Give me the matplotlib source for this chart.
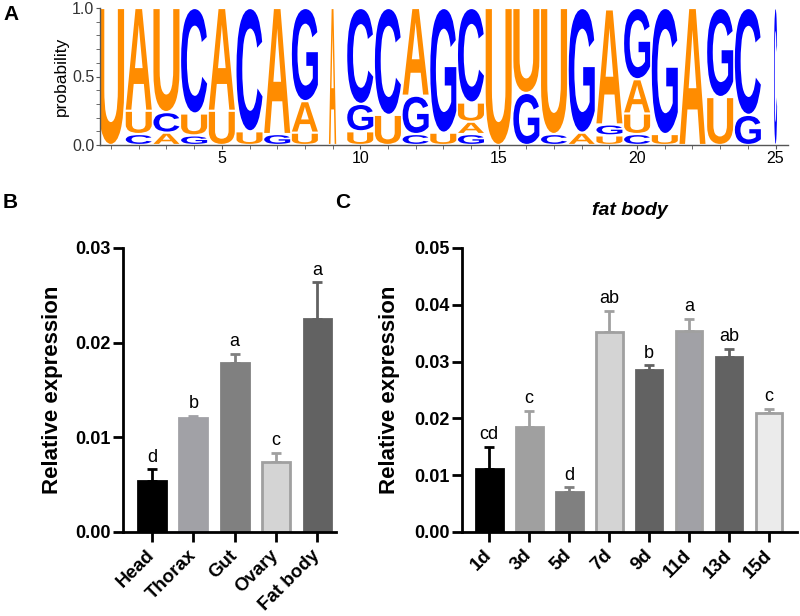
import matplotlib
matplotlib.use('Agg')
import matplotlib.pyplot as plt
from matplotlib.textpath import TextPath
from matplotlib.patches import PathPatch
from matplotlib.font_manager import FontProperties
from matplotlib.transforms import Affine2D
from matplotlib.ticker import MultipleLocator, FormatStrFormatter
import numpy as np

plt.rcParams['font.family'] = ['Liberation Sans', 'DejaVu Sans']

# --- A: sequence logo (probabilities per position) ---
positions = list(range(1, 26))
prob_A = [0, .75, .09, 0, .75, 0, .92, .23, 1, 0, 0, .64, 0, .09, 0, 0, 0, .09, .84, .25, 0, 1, 0, 0, 0]
prob_C = [0, .08, .15, .77, 0, .90, 0, 0, 0, .70, .78, .08, 0, .69, 0, 0, .08, 0, 0, .08, 0, 0, 0, .78, 1]
prob_G = [0, 0, 0, .07, 0, 0, .08, .68, 0, .20, 0, .28, .91, .08, 0, .38, 0, .91, .08, .52, .92, 0, .65, .22, 0]
prob_U = [1, .17, .76, .16, .25, .10, 0, .09, 0, .10, .22, 0, .09, .14, 1, .62, .92, 0, .07, .15, .08, 0, .35, 0, 0]
coverage = [1, 1, 1, 1, 1, 1, 1, 1, .28, 1, 1, 1, 1, 1, 1, 1, 1, 1, 1, 1, 1, 1, 1, 1, .12]

# --- B: tissues ---
tissues = ['Head', 'Thorax', 'Gut', 'Ovary', 'Fat body']
tissue_mean = [0.00542, 0.0120, 0.0179, 0.00735, 0.02246]
tissue_err = [0.00120, 0.00025, 0.0009, 0.00100, 0.0039]
tissue_sig = ['d', 'b', 'a', 'c', 'a']

# --- C: fat body time course ---
days = ['1d', '3d', '5d', '7d', '9d', '11d', '13d', '15d']
day_mean = [0.01115, 0.01843, 0.00699, 0.03527, 0.02847, 0.03544, 0.03087, 0.0209]
day_err = [0.0039, 0.0029, 0.0009, 0.0037, 0.0009, 0.0021, 0.0014, 0.0008]
day_sig = ['cd', 'c', 'd', 'ab', 'b', 'a', 'ab', 'c']

orange = '#FF8C00'
blue = '#0000FF'
letter_colors = {'A': orange, 'U': orange, 'C': blue, 'G': blue}
logo_font = FontProperties(family='Liberation Sans', weight='bold')


def draw_letter(ax, ch, x, y0, w, h, color):
    """rysuje jedna litere rozciagnieta do prostokata"""
    tp = TextPath((0, 0), ch, size=1, prop=logo_font)
    bb = tp.get_extents()
    pad = 0.008
    hh = max(h - 2 * pad, 0.002)
    tr = Affine2D().translate(-bb.x0, -bb.y0).scale(w / bb.width, hh / bb.height).translate(x - w / 2, y0 + pad)
    ax.add_patch(PathPatch(tr.transform_path(tp), facecolor=color, edgecolor='none'))


fig = plt.figure(figsize=(8, 6.16), dpi=100)

axA = fig.add_axes([100 / 800, 1 - 145 / 616, 688 / 800, 137 / 616])
for i, pos in enumerate(positions):
    col = {'A': prob_A[i], 'C': prob_C[i], 'G': prob_G[i], 'U': prob_U[i]}
    order = sorted(col.keys(), key=lambda k: col[k])
    y = 0
    for ch in order:
        if col[ch] <= 0:
            continue
        draw_letter(axA, ch, pos, y, 0.94 * coverage[i], col[ch], letter_colors[ch])
        y += col[ch]
axA.set_xlim(0.6, 25.45)
axA.set_ylim(0, 1)
for s in ['top', 'right']:
    axA.spines[s].set_visible(False)
for s in ['left', 'bottom']:
    axA.spines[s].set_color('#555555')
    axA.spines[s].set_linewidth(1)
axA.xaxis.set_major_locator(MultipleLocator(5))
axA.xaxis.set_minor_locator(MultipleLocator(1))
axA.yaxis.set_major_locator(MultipleLocator(0.5))
axA.yaxis.set_minor_locator(MultipleLocator(0.1))
axA.yaxis.set_major_formatter(FormatStrFormatter('%.1f'))
axA.tick_params(which='both', color='#555555', length=3, labelsize=11.5, pad=1)
axA.tick_params(axis='y', labelcolor='#333333')
axA.set_ylabel('probability', fontsize=12.5)
axA.yaxis.set_label_coords(-0.045, 0.5)


def style_bar_axes(ax):
    for s in ['top', 'right']:
        ax.spines[s].set_visible(False)
    for s in ['left', 'bottom']:
        ax.spines[s].set_linewidth(2)
    ax.tick_params(width=2, length=7, labelsize=13, pad=2)
    ax.tick_params(axis='x', labelsize=13.5, pad=8)
    for lab in ax.get_yticklabels() + ax.get_xticklabels():
        lab.set_fontweight('bold')


def draw_bars(ax, labels, mean, err, sig, face, edge, ymax_text_pad):
    x = np.arange(len(labels))
    for i in range(len(labels)):
        ax.bar(x[i], mean[i], width=0.67, color=face[i], edgecolor=edge[i], linewidth=2, zorder=2)
        ax.errorbar(x[i], mean[i], yerr=[[0], [err[i]]], fmt='none', ecolor=edge[i],
                    elinewidth=2, capsize=3.6, capthick=2, zorder=1)
        ax.text(x[i], mean[i] + err[i] + ymax_text_pad, sig[i], ha='center', va='bottom', fontsize=13)
    ax.set_xticks(x)
    ax.set_xticklabels(labels, rotation=45, ha='right', va='center', rotation_mode='anchor', fontweight='bold')


# --- panel B ---
axB = fig.add_axes([123 / 800, 1 - 532 / 616, 213 / 800, 284 / 616])
draw_bars(axB, tissues, tissue_mean, tissue_err, tissue_sig,
          ['#000000', '#A1A1A6', '#808080', '#D4D4D4', '#626262'],
          ['#000000', '#A1A1A6', '#808080', '#A0A0A0', '#626262'], 0.0004)
axB.set_xlim(-0.7, 4.45)
axB.set_ylim(0, 0.03)
axB.set_yticks([0, 0.01, 0.02, 0.03])
axB.yaxis.set_major_formatter(FormatStrFormatter('%.2f'))
axB.set_ylabel('Relative expression', fontsize=16, fontweight='bold')
axB.yaxis.set_label_coords(-0.28, 0.5)
style_bar_axes(axB)

# --- panel C ---
axC = fig.add_axes([462 / 800, 1 - 532 / 616, 335 / 800, 284 / 616])
draw_bars(axC, days, day_mean, day_err, day_sig,
          ['#000000', '#A0A0A0', '#808080', '#D4D4D4', '#626262', '#A1A1A6', '#626262', '#EBEBEB'],
          ['#000000', '#A0A0A0', '#808080', '#A0A0A0', '#626262', '#A0A0A0', '#626262', '#A0A0A0'], 0.0006)
axC.set_xlim(-0.68, 7.7)
axC.set_ylim(0, 0.05)
axC.set_yticks([0, 0.01, 0.02, 0.03, 0.04, 0.05])
axC.yaxis.set_major_formatter(FormatStrFormatter('%.2f'))
axC.set_ylabel('Relative expression', fontsize=16, fontweight='bold')
axC.yaxis.set_label_coords(-0.185, 0.5)
axC.set_title('fat body', fontsize=14, fontweight='bold', style='italic', pad=24)
style_bar_axes(axC)

fig.text(3 / 800, 1 - 14 / 616, 'A', fontsize=15, fontweight='bold', va='center')
fig.text(3 / 800, 1 - 202 / 616, 'B', fontsize=15, fontweight='bold', va='center')
fig.text(335 / 800, 1 - 203 / 616, 'C', fontsize=15, fontweight='bold', va='center')

fig.savefig('out.png', dpi=100)
